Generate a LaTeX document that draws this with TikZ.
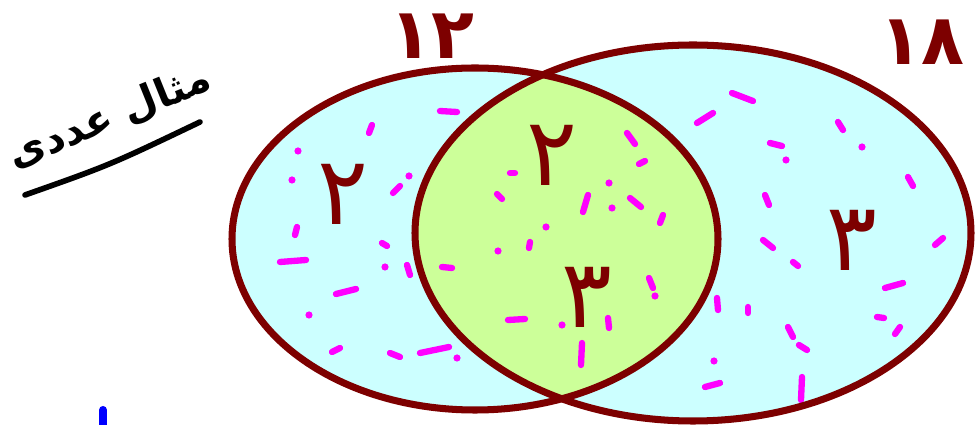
\documentclass[tikz,border=0pt]{standalone}
\usepackage{fontspec}
\newfontfamily\arabicfont[Script=Arabic]{DejaVu Sans}
\TeXXeTstate=1
\definecolor{vennred}{RGB}{125,0,0}
\definecolor{skyfill}{RGB}{204,255,255}
\definecolor{limefill}{RGB}{204,255,153}
\definecolor{specks}{RGB}{255,0,255}
\begin{document}
\begin{tikzpicture}[x=0.02cm, y=-0.02cm,
    rim/.style={draw=vennred, line width=4pt},
    speck/.style={draw=specks, line width=3.6pt, line cap=round},
    digit/.style={text=vennred, font=\arabicfont\fontsize{54}{58}\selectfont, inner sep=0pt},
    total/.style={digit, font=\arabicfont\bfseries\fontsize{40}{44}\selectfont}]
  \useasboundingbox (0,0) rectangle (975,425);

  % the two sets, filled
  \fill[skyfill] (475,239) ellipse [x radius=243, y radius=171];
  \fill[skyfill] (693,233) ellipse [x radius=278, y radius=188];
  \begin{scope}
    \clip (475,239) ellipse [x radius=243, y radius=171];
    \fill[limefill] (693,233) ellipse [x radius=278, y radius=188];
  \end{scope}

  % pink specks
  \foreach \xa/\ya/\xb/\yb in {440/111/457/112, 372/125/369/133, 400/186/393/193, 297/227/295/235,
      382/243/387/246, 280/262/306/260, 407/265/410/275, 442/267/452/268, 336/294/356/289,
      332/352/340/348, 390/353/400/357, 420/353/449/347,
      627/133/635/144, 639/164/645/161, 510/173/515/173, 497/194/502/199, 588/195/583/212,
      630/198/641/207, 663/215/660/223, 530/242/529/248, 649/278/653/288, 508/320/525/319,
      608/318/609/328, 582/343/581/365, 697/123/713/113, 717/298/718/310, 705/387/720/383,
      732/93/753/101, 838/122/843/130, 770/143/782/146, 908/177/913/186, 765/195/769/205,
      763/240/773/248, 793/262/798/266, 943/238/935/245, 885/288/903/283, 748/307/748/313,
      877/317/884/318, 900/327/895/334, 788/327/793/337, 799/345/807/350, 802/377/801/400}
    \draw[speck] (\xa,\ya) -- (\xb,\yb);
  \foreach \xa/\ya in {298/151, 292/180, 409/176, 385/267, 309/315, 457/358,
      609/183, 612/208, 546/227, 498/251, 655/296, 562/325, 714/361, 786/160, 862/147}
    \fill[specks] (\xa,\ya) circle [radius=3.6];

  % outlines
  \draw[rim] (475,239) ellipse [x radius=243, y radius=171];
  \draw[rim] (693,233) ellipse [x radius=278, y radius=188];

  % counts
  \node[total] (twelve) at (432,36) {۱۲};
  \node[total] (eighteen) at (922,42) {۱۸};
  \node[digit] (onlyleft) at (343,194) {۲};
  \node[digit] (bothtop) at (552,155) {۲};
  \node[digit] (bothlow) at (587,297) {۳};
  \node[digit] (onlyright) at (852,240) {۳};

  % title
  \node[rotate=22, font=\arabicfont\bfseries\fontsize{23}{26}\selectfont] (title) at (110,118) {\beginR مثال عددی\endR};
  \draw[line width=3.2pt, line cap=round] (25,195) .. controls (110,165) .. (200,122);

  \draw[blue, line width=4.6pt, line cap=round] (103,410) -- (103,440);
\end{tikzpicture}
\end{document}
